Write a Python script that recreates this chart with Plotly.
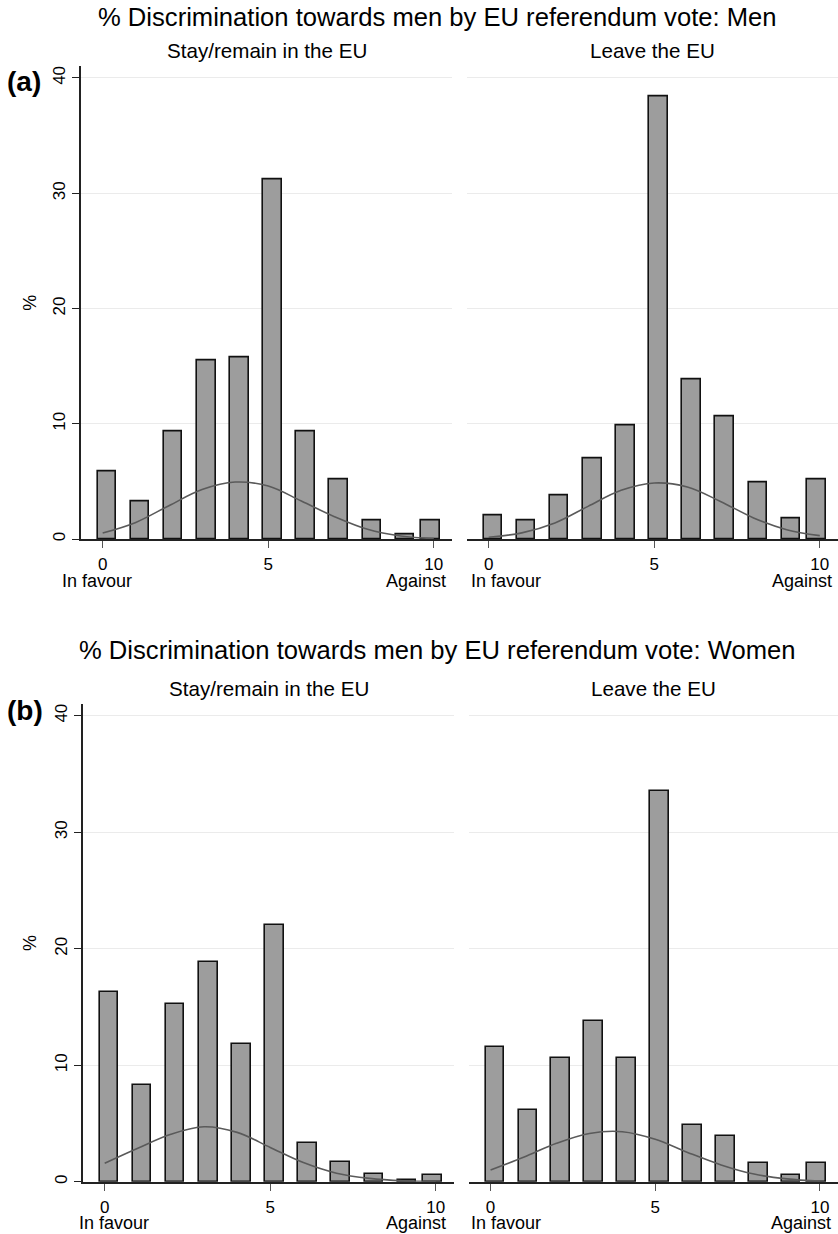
import plotly.graph_objects as go

# ---------------- data ----------------
scores = list(range(11))
x_ticks = [0, 5, 10]
y_ticks = [0, 10, 20, 30, 40]

men_remain = [5.9, 3.24, 9.31, 15.49, 15.75, 31.2, 9.36, 5.17, 1.65, 0.38, 1.65]
men_leave = [2.08, 1.59, 3.81, 7.0, 9.88, 38.4, 13.87, 10.66, 4.91, 1.76, 5.2]
women_remain = [16.3, 8.31, 15.26, 18.86, 11.83, 22.02, 3.31, 1.69, 0.66, 0.17, 0.57]
women_leave = [11.57, 6.17, 10.66, 13.8, 10.6, 33.5, 4.89, 3.94, 1.6, 0.6, 1.63]

# normal-density overlay at each score
men_remain_normal = [0.53, 1.45, 2.9, 4.3, 4.95, 4.6, 3.3, 1.95, 0.85, 0.27, 0.05]
men_leave_normal = [0.16, 0.54, 1.4, 2.84, 4.23, 4.87, 4.52, 3.27, 1.84, 0.82, 0.3]
women_remain_normal = [1.59, 2.88, 4.08, 4.72, 4.24, 2.95, 1.65, 0.74, 0.29, 0.08, 0.02]
women_leave_normal = [1.02, 2.1, 3.3, 4.15, 4.3, 3.65, 2.5, 1.45, 0.66, 0.25, 0.06]

panel_titles = ["% Discrimination towards men by EU referendum vote: Men",
                "% Discrimination towards men by EU referendum vote: Women"]
panel_tags = ["(a)", "(b)"]
sub_titles = ["Stay/remain in the EU", "Leave the EU"]
low_label = "In favour"
high_label = "Against"
y_title = "%"

# ---------------- layout helpers ----------------
W, H = 838, 1234
FONT = "Liberation Sans, Arial, sans-serif"


def fx(p):
    return p / W


def fy(p):
    return 1 - p / H


BAR_FILL = "#9d9d9d"
BAR_LINE = "#111111"
CURVE = "#5a5a5a"
GRID = "#ebebeb"
AXIS = "#222222"

bar_offsets = [-0.15] * 10 + [-0.38]

panels = [
    dict(series=(men_remain, men_leave), normals=(men_remain_normal, men_leave_normal),
         title_y=17.5, sub_y=51, tag_y=81.5, y0=540, ytop=66.5,
         cols=[(81, 452), (467, 838)], lab_y=581.5,
         fav_x=[60, 469], ag_x=[448, 834]),
    dict(series=(women_remain, women_leave), normals=(women_remain_normal, women_leave_normal),
         title_y=651.5, sub_y=690, tag_y=711.5, y0=1183.7, ytop=705.2,
         cols=[(83, 454), (469, 838)], lab_y=1225,
         fav_x=[77, 469], ag_x=[448, 833]),
]

fig = go.Figure()
annotations = []
layout_axes = {}

ax_i = 0
for p_i, pan in enumerate(panels):
    annotations.append(dict(text=panel_titles[p_i], x=fx(437), y=fy(pan["title_y"]),
                            xref="paper", yref="paper", xanchor="center", yanchor="middle",
                            showarrow=False, font=dict(size=25.6, color="black", family=FONT)))
    annotations.append(dict(text="<b>%s</b>" % panel_tags[p_i], x=fx(5), y=fy(pan["tag_y"]),
                            xref="paper", yref="paper", xanchor="left", yanchor="middle",
                            showarrow=False, font=dict(size=28, color="black", family=FONT)))
    annotations.append(dict(text=y_title, x=fx(30), y=fy((pan["y0"] + pan["ytop"]) / 2),
                            xref="paper", yref="paper", xanchor="center", yanchor="middle",
                            textangle=-90, showarrow=False,
                            font=dict(size=18, color="black", family=FONT)))
    for c_i in range(2):
        ax_i += 1
        sfx = "" if ax_i == 1 else str(ax_i)
        xa, ya = "x" + sfx, "y" + sfx
        left, right = pan["cols"][c_i]
        vals = pan["series"][c_i]
        norm = pan["normals"][c_i]

        fig.add_trace(go.Bar(x=scores, y=vals, xaxis=xa, yaxis=ya, width=0.56,
                             offset=bar_offsets,
                             marker=dict(color=BAR_FILL, line=dict(color=BAR_LINE, width=1.6)),
                             showlegend=False, hoverinfo="skip"))
        fig.add_trace(go.Scatter(x=scores, y=norm, xaxis=xa, yaxis=ya, mode="lines",
                                 line=dict(color=CURVE, width=1.6, shape="spline", smoothing=1.0),
                                 showlegend=False, hoverinfo="skip"))

        layout_axes["xaxis" + sfx] = dict(
            domain=[fx(left), fx(right)], anchor=ya, range=[-0.655, 10.55],
            tickmode="array", tickvals=x_ticks, ticktext=[str(t) for t in x_ticks],
            ticks="outside", ticklen=7, tickcolor="#555555", tickwidth=1.2,
            showline=True, linecolor=AXIS, linewidth=1.5, showgrid=False, zeroline=False,
            tickfont=dict(size=17, color="black", family=FONT), ticklabelstandoff=2,
            fixedrange=True)
        yax = dict(
            domain=[fy(pan["y0"]), fy(pan["ytop"])], anchor=xa, range=[0, 41],
            tickmode="array", tickvals=y_ticks, showgrid=True, gridcolor=GRID, gridwidth=1.2,
            zeroline=False, fixedrange=True)
        if c_i == 0:
            yax.update(showline=True, linecolor=AXIS, linewidth=1.5, ticks="outside", ticklen=7,
                       tickcolor=AXIS, tickwidth=1.2, tickangle=-90, showticklabels=True,
                       ticktext=[str(t) for t in y_ticks],
                       tickfont=dict(size=17, color="black", family=FONT))
        else:
            yax.update(showline=False, ticks="", showticklabels=False)
        layout_axes["yaxis" + sfx] = yax

        annotations.append(dict(text=sub_titles[c_i], x=fx((left + right) / 2), y=fy(pan["sub_y"]),
                                xref="paper", yref="paper", xanchor="center", yanchor="middle",
                                showarrow=False, font=dict(size=20.6, color="black", family=FONT)))
        annotations.append(dict(text=low_label, x=fx(pan["fav_x"][c_i]), y=fy(pan["lab_y"]),
                                xref="paper", yref="paper", xanchor="left", yanchor="middle",
                                showarrow=False, font=dict(size=18, color="black", family=FONT)))
        annotations.append(dict(text=high_label, x=fx(pan["ag_x"][c_i]), y=fy(pan["lab_y"]),
                                xref="paper", yref="paper", xanchor="right", yanchor="middle",
                                showarrow=False, font=dict(size=18, color="black", family=FONT)))

fig.update_layout(
    width=W, height=H, margin=dict(l=0, r=0, t=0, b=0),
    paper_bgcolor="white", plot_bgcolor="white",
    font=dict(family=FONT, color="black"),
    annotations=annotations, bargap=0, showlegend=False,
    **layout_axes)

fig.write_html("out.html")
